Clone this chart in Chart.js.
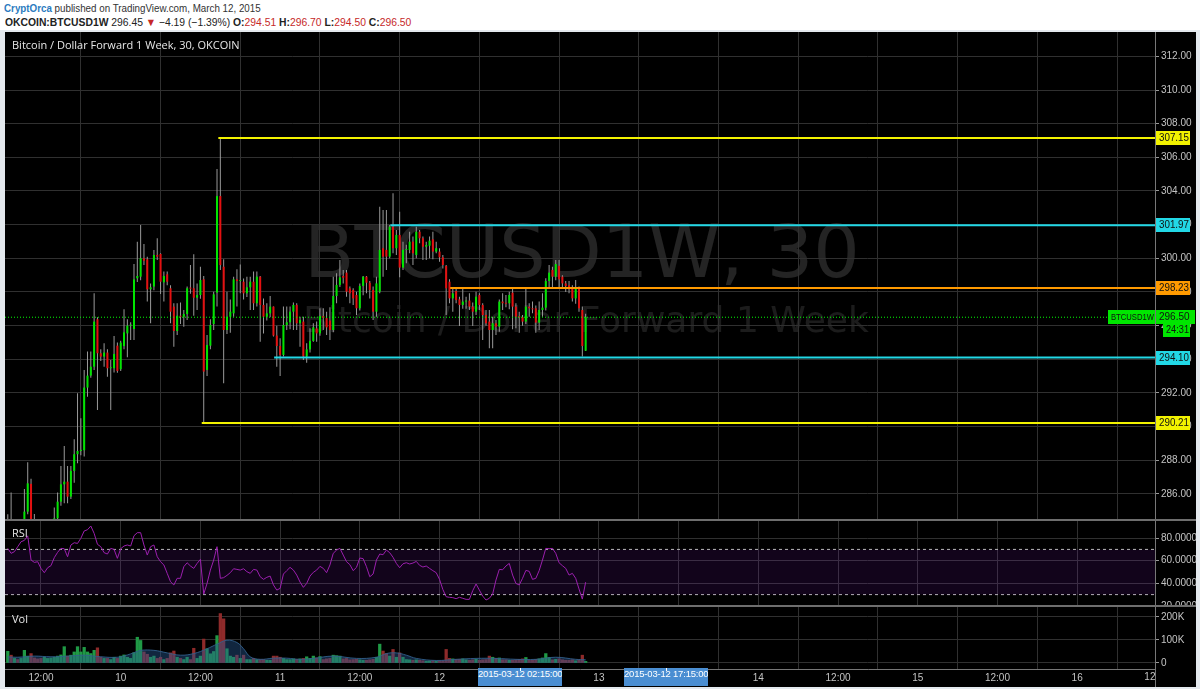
<!DOCTYPE html>
<html><head><meta charset="utf-8">
<script src="https://cdn.jsdelivr.net/npm/chart.js@4.4.1/dist/chart.umd.min.js"></script>
<style>
html,body{margin:0;padding:0}
body{width:1200px;height:689px;position:relative;overflow:hidden;background:#fff;font-family:'Liberation Sans',Arial,sans-serif}
#hdr1{position:absolute;left:4px;top:0;font-size:11px;color:#333;line-height:16px;white-space:nowrap;transform:scaleX(0.89);transform-origin:0 0}
#hdr2{position:absolute;left:5px;top:14px;font-size:11px;color:#222;line-height:16px;white-space:nowrap;transform:scaleX(0.94);transform-origin:0 0}
.b{font-weight:bold}.r{color:#c62828}
#frame{position:absolute;left:0;top:30px;width:1200px;height:659px;background:#e4e9ee}
#black{position:absolute;left:5px;top:32px;width:1191px;height:655px;background:#000}
canvas{position:absolute;left:5px}
.sep{position:absolute;left:5px;width:1191px;height:2px;background:#6e6e6e}
.lbl{position:absolute;color:#e6e6e6;font:11px 'Open Sans',Arial,sans-serif;line-height:14px;white-space:nowrap}
.dt{position:absolute;top:668px;height:18px;line-height:18px;background:#4a8ed2;color:#fff;font:9.5px 'Liberation Sans',Arial,sans-serif;letter-spacing:-0.2px;text-align:center;white-space:nowrap;overflow:hidden}
.dt i{position:absolute;left:50%;top:0;width:1px;height:3px;background:#fff}
#axv{position:absolute;left:1155px;top:669px;width:1px;height:18px;background:#777}
</style></head>
<body>
<div id="hdr1"><span style="color:#2b7bc0;font-weight:bold">CryptOrca</span> published on TradingView.com, March 12, 2015</div>
<div id="hdr2"><span class="b">OKCOIN:BTCUSD1W</span> 296.45 <span style="color:#c62828">▼</span> −4.19 (−1.39%) <span class="b">O:</span><span class="r">294.51</span> <span class="b">H:</span><span class="r">296.70</span> <span class="b">L:</span><span class="r">294.50</span> <span class="b">C:</span><span class="r">296.50</span></div>
<div id="frame"></div>
<div id="black"></div>
<canvas id="cp" width="1191" height="488" style="top:32px"></canvas>
<canvas id="cr" width="1191" height="86" style="top:520px"></canvas>
<canvas id="cv" width="1191" height="81" style="top:606px"></canvas>
<div class="sep" style="top:519px"></div>
<div class="sep" style="top:605px"></div>
<div id="axv"></div>
<div class="lbl" style="left:12px;top:38px">Bitcoin / Dollar Forward 1 Week, 30, OKCOIN</div>
<div class="lbl" style="left:12px;top:526px">RSI</div>
<div class="lbl" style="left:12px;top:612px">Vol</div>
<div class="dt" style="left:478px;width:84px">2015-03-12 02:15:00<i></i></div>
<div class="dt" style="left:624px;width:84px">2015-03-12 17:15:00<i></i></div>
<script>
// ---- data (30-minute candles, first candle 2015-03-09 07:00) ----
const FIRST_HOUR = 7;      // hours after 2015-03-09 00:00
const STEP_HOURS = 0.5;    // 30-minute candles
const open = [
284.0,284.2,283.9,284.1,283.8,284.2,284.95,286.6,284.3,284.1,
283.8,283.6,283.9,284.0,284.2,284.55,285.54,286.57,286.73,285.84,
287.37,288.36,288.55,288.6,292.32,293.03,293.56,296.38,294.36,294.16,
294.40,293.47,293.47,294.81,293.41,294.79,295.54,296.0,295.8,298.81,
298.91,300.0,299.94,298.16,298.32,300.2,300.26,298.57,299.05,298.22,
297.13,295.68,296.59,296.53,296.69,298.22,298.22,297.66,297.82,298.75,
293.37,294.81,296.1,297.96,303.7,299.5,295.74,296.53,296.73,298.75,
298.65,298.61,297.92,298.28,298.61,297.33,298.91,297.23,296.53,296.73,
297.13,295.41,294.79,294.26,296.04,296.2,296.83,297.23,296.14,296.24,
294.16,294.59,295.09,295.84,295.54,296.57,296.45,296.3,295.74,297.76,
298.42,298.95,299.15,298.22,298.12,297.82,297.03,298.36,298.91,298.55,
298.12,296.83,298.02,300.6,300.5,300.1,301.88,300.6,301.39,299.45,
300.5,300.5,300.99,300.2,301.58,301.19,300.69,300.75,301.13,300.4,
300.4,300.06,299.55,298.61,297.62,298.06,297.56,297.23,297.43,297.49,
297.13,296.83,297.82,297.23,296.63,296.24,295.74,296.14,295.94,297.43,
297.33,297.33,297.96,297.13,296.53,296.5,296.24,297.13,297.03,297.03,
296.18,296.93,297.07,298.65,299.31,298.91,299.55,298.91,298.51,298.4,
298.2,297.62,298.26,296.93,294.51];
const high = [
284.8,286.08,284.3,284.4,284.4,286.3,287.88,286.9,284.81,284.4,
284.2,284.1,284.3,284.4,285.2,286.08,287.66,288.85,287.66,287.66,
289.25,291.98,290.5,293.37,294.46,294.46,297.92,296.5,294.6,294.95,
294.6,293.96,295.39,295.0,295.1,296.97,296.38,296.2,299.66,300.99,
301.98,300.85,300.1,298.5,300.5,301.19,300.3,299.21,299.21,298.4,
297.33,297.33,297.37,296.93,298.32,299.6,300.24,298.51,299.5,298.95,
295.45,296.38,298.02,305.3,307.15,299.94,298.02,297.56,298.9,299.35,
299.64,298.8,298.91,298.91,299.21,299.21,298.95,297.62,297.33,297.76,
297.13,296.0,295.25,297.13,297.13,297.13,297.37,297.33,296.53,296.53,
294.95,295.84,296.14,296.24,297.03,297.03,296.83,297.1,298.91,299.11,
299.9,299.31,299.31,298.32,298.22,298.02,298.51,298.95,298.95,298.65,
298.32,298.91,303.07,302.87,302.87,301.98,303.86,301.68,302.77,300.99,
300.8,301.58,301.3,301.88,301.68,301.29,300.99,301.29,301.58,300.99,
300.6,300.2,299.6,298.75,298.22,298.22,297.72,298.22,297.72,297.92,
297.37,298.02,297.92,297.33,296.93,296.93,296.53,296.34,297.56,297.92,
297.82,298.02,298.22,297.33,296.83,296.63,298.18,297.33,297.43,297.2,
297.43,297.92,298.81,299.6,299.5,299.9,299.9,299.0,298.65,298.65,
298.4,298.71,298.32,297.13,296.70];
const low = [
283.9,283.8,283.5,283.6,283.4,283.9,284.8,284.0,283.7,283.6,
283.3,283.2,283.5,283.7,284.0,284.3,285.3,285.45,285.45,285.7,
286.67,287.82,288.3,288.22,291.78,292.9,293.37,290.99,293.9,293.56,
292.97,290.99,293.21,293.2,293.3,294.6,294.12,295.15,295.15,298.6,
298.7,299.6,297.43,296.14,298.1,299.9,297.88,297.43,298.4,296.14,
294.75,295.45,296.1,295.94,296.34,297.9,296.59,296.93,297.6,290.2,
293.01,294.6,295.74,297.13,299.3,292.57,295.5,295.58,296.53,297.13,
297.92,297.56,297.7,296.93,296.93,297.13,295.05,295.54,296.3,296.5,
295.35,293.56,293.01,294.16,295.74,295.78,295.74,295.74,294.75,293.96,
293.8,294.4,295.05,295.05,295.4,295.74,295.45,295.15,295.6,297.33,
298.3,298.5,297.72,297.33,297.23,296.63,296.9,297.8,297.92,297.62,
296.34,296.53,297.92,298.91,299.31,300.0,300.3,300.2,298.87,299.31,
299.7,300.3,299.6,300.0,300.9,299.9,299.9,300.0,299.94,300.3,
299.8,299.4,296.63,297.33,296.83,297.33,295.98,297.0,297.0,296.93,
295.98,296.63,296.93,295.15,296.0,294.65,294.65,295.45,295.64,296.93,
297.09,296.97,295.78,295.84,295.58,296.0,296.1,296.53,296.73,295.58,
295.74,296.53,296.9,298.3,298.3,298.7,298.3,298.3,298.0,297.92,
297.43,297.3,296.83,294.16,294.50];
const close = [
284.3,283.9,284.1,283.8,284.2,284.95,286.63,284.3,284.1,283.8,
283.6,283.9,284.0,284.2,284.55,285.54,286.57,286.73,285.84,287.37,
288.36,288.55,288.62,292.32,293.03,293.56,296.24,294.36,294.16,294.40,
293.47,293.5,294.32,293.31,294.99,295.60,296.0,296.04,298.75,298.95,
300.0,299.86,298.16,298.28,300.20,300.1,298.61,298.95,298.61,296.83,
295.68,296.59,296.53,296.69,298.22,298.2,297.66,297.82,298.71,293.27,
294.85,296.04,297.86,303.70,299.6,295.74,296.53,296.83,298.75,298.65,
298.7,297.92,298.28,298.61,297.33,298.91,297.23,296.53,296.73,297.13,
295.41,294.79,294.26,296.04,296.2,296.83,297.23,296.14,296.34,294.16,
294.59,295.09,295.9,295.54,296.57,296.45,295.9,295.74,297.76,298.42,
298.87,298.85,298.02,297.92,297.62,297.03,298.36,298.91,298.55,298.12,
296.83,298.51,300.5,300.1,300.1,301.88,300.6,301.39,299.45,300.5,
300.55,300.99,300.3,301.58,301.19,300.69,300.79,301.05,300.4,300.6,
300.06,299.6,298.22,297.62,297.92,297.52,297.23,297.43,297.49,297.13,
296.83,297.72,297.23,296.63,296.14,295.74,296.14,295.94,297.43,297.33,
297.3,297.82,297.13,296.53,296.5,296.24,297.13,297.03,296.97,296.18,
296.93,297.07,298.65,299.15,298.91,299.66,298.75,298.51,298.36,298.16,
297.62,298.26,297.03,294.79,296.50];
const volume = [
51000,34000,20000,15000,20000,55000,30000,41000,22000,18000,
20000,25000,20000,22000,25000,30000,35000,71000,30000,34000,
48000,71000,48000,68000,48000,41000,55000,66000,25000,20000,
20000,15000,25000,20000,30000,35000,25000,20000,45000,112000,
98000,48000,38000,25000,30000,20000,25000,15000,20000,44000,
52000,25000,20000,15000,25000,15000,64000,20000,30000,104000,
62000,40000,50000,119000,215000,192000,62000,30000,25000,34000,
20000,34000,15000,15000,20000,15000,15000,15000,12000,12000,
30000,30000,25000,20000,15000,15000,18000,16000,18000,20000,
27000,20000,30000,22000,28000,15000,18000,20000,34000,32000,
30000,18000,20000,14000,15000,16000,14000,12000,12000,14000,
16000,25000,82000,52000,41000,30000,59000,25000,44000,25000,
15000,14000,12000,14000,12000,10000,8000,9000,10000,8000,
9000,10000,59000,20000,18000,16000,16000,18000,14000,12000,
14000,16000,12000,14000,15000,30000,25000,20000,22000,14000,
14000,12000,12000,14000,16000,18000,24000,12000,12000,16000,
18000,22000,41000,24000,14000,16000,18000,14000,12000,12000,
14000,10000,14000,34000,7000];
const rsi = [
70.9,66.5,68,72.4,76.8,78,82,60.6,58.5,59.1,
53.2,49.4,53.8,55.6,62.7,67.4,70.9,70.6,63.5,73.9,
75.9,75.3,79.8,86.3,87.4,90.7,84.2,74.5,72.4,67.1,
65.9,70.9,70.0,62.1,70.6,73,73.9,73,82.1,84.8,
84.8,73.9,65,72.4,73.9,63.5,59.1,56.2,48.8,41.4,
38.5,44.4,44.4,54.7,58.2,55.3,53.2,57.6,61.2,30.5,
39.9,51.7,60.6,72.4,44.4,45,47,49.4,52.9,52.3,
51.7,52.9,50.3,48.8,52.3,51.7,45.8,43.5,45.3,46.4,
38.5,34,35.5,48.2,51.2,54.1,51.7,47.3,41.1,36.4,
39.9,46.4,49.7,51.7,55,53.2,49.4,56.2,66.5,69.4,
70.9,65,59.1,56.5,51.2,54.1,62.4,61.8,54.7,45.8,
48.2,60.6,65.9,65.3,69.4,67.1,63,57.6,53.8,57.3,
58.2,57.1,57.9,59.4,55.9,54.4,55.3,53.2,51.2,49.4,
43.5,34.6,28.1,27.6,27.3,26.4,27.6,26.7,25.8,25.8,
33.5,39.4,34,28.7,25.2,26.7,30.5,42.9,52.3,52,
55.3,57.6,47.3,39.9,38.5,44.4,51.4,50.6,43.5,44.4,
51.2,60.6,70.9,70.6,70.9,66.5,58.2,55.6,53.2,47.3,
48.8,44.4,35,26,41];
// volume moving average, read at selected candles (candle index, value)
const volMaAt  = [0,3,8,13,18,23,28,33,36,38,40,44,48,52,56,60,63,66,69,71,73,76,80,84,88,92,98,105,111,114,117,120,123,129,135,141,147,153,159,165,171,174];
const volMaVal = [27000,25000,30000,27000,30000,34000,27000,25000,35000,45000,55000,55000,44000,34000,41000,62000,82000,99000,89000,62000,27000,16000,21000,21000,16000,20000,30000,20000,25000,41000,44000,34000,20000,11000,16000,20000,20000,16000,16000,25000,16000,14000];
// horizontal drawing levels
const levelPrices = [307.15, 301.97, 298.23, 294.10, 290.21];
const levelStartHours = [38.7, 64.6, 73.6, 47.1, 36.2];
const levelColors = ['#f2f200', '#22d8e6', '#ff9a00', '#22d8e6', '#f2f200'];
// axis ticks
const priceTicks = [286,288,290,292,294,296,298,300,302,304,306,308,310,312];
const rsiTicks = [20,40,60,80];
const volTicks = [0,100000,200000];
const timeTicks = [12,24,36,48,60,72,84,96,108,120,132,144,156,168];
const symbolLabel = 'BTCUSD1W';
const countdown = '24:31';

// ---- helpers ----
const X_MIN = 6.58, X_MAX = 179.72;
const times = open.map((_, i) => FIRST_HOUR + i * STEP_HOURS);
const up = open.map((o, i) => close[i] >= o);
const TXT = '#c4c4c4';
const GRID = '#303030';
const FONT = {family: "'Liberation Sans', Arial, sans-serif", size: 10};

function xScale(showTicks) {
  return {
    type: 'linear', min: X_MIN, max: X_MAX, offset: false,
    afterBuildTicks: s => { s.ticks = timeTicks.map(v => ({value: v})); },
    ticks: {display: showTicks, autoSkip: false, maxRotation: 0, color: TXT, font: FONT, padding: 3,
      callback: v => (v % 24 === 0 ? String(9 + v / 24) : '12:00')},
    grid: {color: GRID, drawTicks: false},
    border: {display: showTicks, color: '#777'},
    afterFit: s => { s.height = showTicks ? 18 : 0; s.paddingLeft = 0; s.paddingRight = 0; }
  };
}
function yScale(min, max, ticks, fmt) {
  return {
    type: 'linear', position: 'right', min, max,
    afterBuildTicks: s => { s.ticks = ticks.map(v => ({value: v})); },
    ticks: {color: TXT, font: FONT, padding: 2, callback: fmt},
    grid: {color: GRID, tickColor: '#999', tickLength: 4},
    border: {display: true, color: '#777'},
    afterFit: s => { s.width = 41; s.paddingTop = 0; s.paddingBottom = 0; }
  };
}
const common = {responsive: false, animation: false, events: [],
  layout: {padding: 0}, plugins: {legend: {display: false}, tooltip: {enabled: false}}};

function box(ctx, x, y, w, color, text, font) {
  ctx.fillStyle = color;
  ctx.fillRect(x, Math.round(y) - 7, w, 14);
  ctx.fillStyle = '#111';
  ctx.textAlign = 'left';
  ctx.font = font || "10px 'Liberation Sans', Arial, sans-serif";
  ctx.fillText(text, x + 3, Math.round(y) + 0.5, w - 4);
}

const watermark = {
  id: 'watermark',
  beforeDraw(chart) {
    const ctx = chart.ctx;
    ctx.save();
    ctx.fillStyle = 'rgba(255,255,255,0.14)';
    ctx.textAlign = 'center';
    ctx.textBaseline = 'alphabetic';
    ctx.font = "73px 'DejaVu Sans', sans-serif";
    ctx.fillText('BTCUSD1W, 30', 577, 245);
    ctx.fillStyle = 'rgba(255,255,255,0.11)';
    ctx.font = "36px 'DejaVu Sans', sans-serif";
    ctx.fillText('Bitcoin / Dollar Forward 1 Week', 581, 300);
    ctx.restore();
  }
};
const priceBoxes = {
  id: 'priceBoxes',
  afterDraw(chart) {
    const {ctx, chartArea, scales: {y}} = chart;
    const x0 = chartArea.right + 1;
    ctx.save();
    ctx.textBaseline = 'middle';
    levelPrices.forEach((p, i) => box(ctx, x0, y.getPixelForValue(p), 34, levelColors[i], p.toFixed(2)));
    const last = close[close.length - 1];
    const py = y.getPixelForValue(last);
    box(ctx, chartArea.right - 47, py, 47, '#00e600', symbolLabel, "8.5px 'Liberation Sans', Arial, sans-serif");
    box(ctx, x0, py, 39, '#00e600', last.toFixed(2));
    box(ctx, x0 + 7, py + 13, 27, '#00e600', countdown);
    ctx.restore();
  }
};
const lastLabel = {
  id: 'lastLabel',
  afterDraw(chart) {
    const {ctx, chartArea, scales: {x}} = chart;
    ctx.save();
    ctx.beginPath();
    ctx.rect(0, chartArea.bottom, chartArea.right, 30);
    ctx.clip();
    ctx.font = "10px 'Liberation Sans', Arial, sans-serif";
    ctx.fillStyle = TXT;
    ctx.textAlign = 'center';
    ctx.textBaseline = 'top';
    ctx.fillText('12:00', x.getPixelForValue(180), chartArea.bottom + 3);
    ctx.restore();
  }
};

// ---- price chart ----
const levelSets = levelPrices.map((p, i) => ({
  type: 'line', data: [{x: levelStartHours[i], y: p}, {x: X_MAX, y: p}],
  borderColor: levelColors[i], borderWidth: 2, pointRadius: 0, order: 1
}));
new Chart(document.getElementById('cp'), {
  type: 'bar',
  data: {datasets: [
    {type: 'bar', data: times.map((t, i) => ({x: t, y: [low[i], high[i]]})),
      backgroundColor: '#9a9a9a', grouped: false, maxBarThickness: 1, order: 4},
    {type: 'bar', data: times.map((t, i) => ({x: t, y: [open[i], close[i]]})),
      backgroundColor: up.map(u => (u ? '#00e600' : '#e41010')), grouped: false,
      maxBarThickness: 2, minBarLength: 1, order: 3},
    ...levelSets,
    {type: 'line', data: [{x: X_MIN, y: close[close.length - 1]}, {x: X_MAX, y: close[close.length - 1]}],
      borderColor: '#00ff00', borderWidth: 1, borderDash: [1, 2], pointRadius: 0, order: 2}
  ]},
  options: {...common, scales: {x: xScale(false),
    y: yScale(284.452, 313.447, priceTicks, v => v.toFixed(2))}},
  plugins: [watermark, priceBoxes]
});

// ---- RSI chart ----
new Chart(document.getElementById('cr'), {
  type: 'line',
  data: {datasets: [
    {data: times.map((t, i) => ({x: t, y: rsi[i]})), borderColor: '#9b1fae', borderWidth: 1,
      pointRadius: 0, tension: 0, order: 0},
    {data: [{x: X_MIN, y: 70}, {x: X_MAX, y: 70}], borderColor: '#b8b8b8', borderWidth: 1,
      borderDash: [3, 3], pointRadius: 0, fill: '+1', backgroundColor: 'rgba(130,30,190,0.14)', order: 2},
    {data: [{x: X_MIN, y: 30}, {x: X_MAX, y: 30}], borderColor: '#b8b8b8', borderWidth: 1,
      borderDash: [3, 3], pointRadius: 0, order: 2}
  ]},
  options: {...common, scales: {x: xScale(false),
    y: yScale(19.91, 96.02, rsiTicks, v => v.toFixed(4))}}
});

// ---- Volume chart ----
new Chart(document.getElementById('cv'), {
  type: 'bar',
  data: {datasets: [
    {type: 'bar', data: times.map((t, i) => ({x: t, y: volume[i]})),
      backgroundColor: up.map(u => (u ? '#1f9a45' : '#8e2a2a')), grouped: false,
      barPercentage: 1, categoryPercentage: 1, maxBarThickness: 2.6, order: 2},
    {type: 'line', data: volMaAt.map((j, i) => ({x: times[j], y: volMaVal[i]})),
      borderColor: 'rgba(50,95,140,0.9)', borderWidth: 1, pointRadius: 0, tension: 0.4,
      fill: 'origin', backgroundColor: 'rgba(40,90,150,0.42)', order: 1}
  ]},
  options: {...common, scales: {x: xScale(true),
    y: yScale(-26087, 247826, volTicks, v => (v === 0 ? '0' : (v / 1000) + 'K'))}},
  plugins: [lastLabel]
});
</script>
</body></html>
